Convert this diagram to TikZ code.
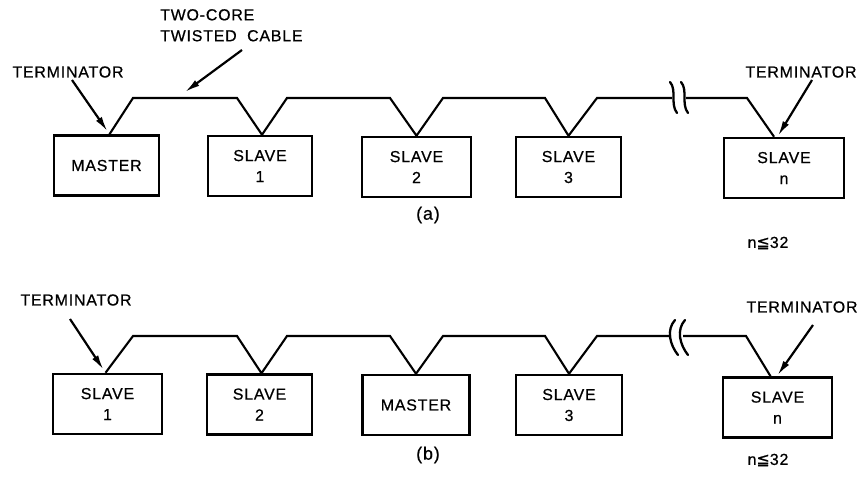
\documentclass[tikz,border=0pt]{standalone}
\usepackage{fontspec}
\setmainfont{Liberation Sans}[LetterSpace=5.0,FakeBold=0.6]
\newfontfamily\symfont{DejaVu Sans}[FakeBold=0.6]
\usetikzlibrary{arrows.meta}
\begin{document}
\begin{tikzpicture}[x=1bp,y=-1bp,
  font=\fontsize{16}{21}\selectfont,
  unit/.style={draw,line width=2.5bp,rectangle,minimum height=60bp,align=center,inner sep=0pt},
  cable/.style={line width=2.1bp,line join=miter},
  pointer/.style={line width=2.2bp,-{Latex[length=15bp,width=7bp]}},
  brk/.style={line width=2.3bp,line cap=round},
  lbl/.style={inner sep=0pt},
  figlabel/.style={inner sep=0pt,font=\fontsize{18}{21}\selectfont}]
\useasboundingbox (0,0) rectangle (859,484);

% ---------- (a) ----------
\node[unit,minimum width=105bp] (aM) at (106.5,165.5) {MASTER};
\node[unit,minimum width=104bp] (aS1) at (260,166) {SLAVE\\1};
\node[unit,minimum width=109bp] (aS2) at (416.5,167) {SLAVE\\2};
\node[unit,minimum width=105bp] (aS3) at (568.5,167) {SLAVE\\3};
\node[unit,minimum width=120bp] (aSn) at (784,168) {SLAVE\\n};

\draw[cable] ([xshift=3]aM.north) -- (133,98) -- (237,98) -- ([xshift=2]aS1.north)
  -- (287,98) -- (390,98) -- (aS2.north) -- (443,98) -- (545,98) -- (aS3.north)
  -- (597,98) -- (672,98);
\draw[cable] (686,98) -- (747,98) -- ([xshift=-10]aSn.north);
\draw[brk] (670,82) .. controls (677,90) and (670,104) .. (677,113);
\draw[brk] (681,82) .. controls (688,90) and (681,104) .. (688,113);

\node[lbl] (aT1) at (68,72) {TERMINATOR};
\draw[pointer] (72,80) -- ([xshift=1,yshift=3]aM.north);
\node[lbl,align=left,anchor=north west] (aC) at (160,9) {TWO-CORE\\TWISTED~~CABLE};
\draw[pointer] (242,50) -- (185,92);
\node[lbl] (aT2) at (801,72) {TERMINATOR};
\draw[pointer] (812,80) -- ([xshift=-6,yshift=1]aSn.north);
\node[lbl] (aN) at (768,243) {n{\symfont ≦}32};
\node[figlabel] (aCap) at (428,215) {(a)};

% ---------- (b) ----------
\node[unit,minimum width=109bp] (bS1) at (107.5,404) {SLAVE\\1};
\node[unit,minimum width=105bp] (bS2) at (259.5,404.5) {SLAVE\\2};
\node[unit,minimum width=107bp] (bM) at (416,405) {MASTER};
\node[unit,minimum width=106bp] (bS3) at (569,405) {SLAVE\\3};
\node[unit,minimum width=109bp] (bSn) at (777.5,407.5) {SLAVE\\n};

\draw[cable] ([xshift=-2]bS1.north) -- (133,336) -- (237,336) -- ([xshift=2]bS2.north)
  -- (287,336) -- (390,336) -- (bM.north) -- (443,336) -- (545,336) -- (bS3.north)
  -- (597,336) -- (671,336);
\draw[cable] (683,336) -- (746,336) -- ([xshift=-7]bSn.north);
\draw[brk] (675,320) .. controls (666,330) and (670,345) .. (678,355);
\draw[brk] (685,320) .. controls (676,330) and (680,345) .. (688,355);

\node[lbl] (bT1) at (76,300) {TERMINATOR};
\draw[pointer] (70,319) -- ([xshift=-4,yshift=3]bS1.north);
\node[lbl] (bT2) at (802,307) {TERMINATOR};
\draw[pointer] (813,325) -- ([xshift=0,yshift=1]bSn.north);
\node[lbl] (bN) at (768,460) {n{\symfont ≦}32};
\node[figlabel] (bCap) at (428,455) {(b)};
\end{tikzpicture}
\end{document}
